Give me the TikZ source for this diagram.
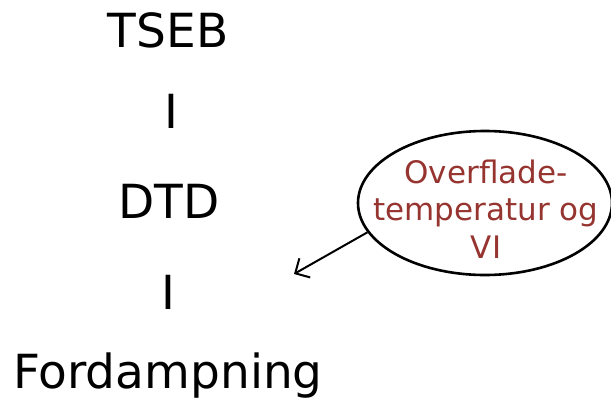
\documentclass[tikz,border=0pt]{standalone}
\usepackage{fontspec}
\setmainfont{DejaVu Sans}
\usetikzlibrary{shapes.geometric,arrows.meta}
\definecolor{noteRed}{RGB}{150,52,48}

\begin{document}
\begin{tikzpicture}[x=1pt,y=-1pt]
        \tikzset{
            chain/.style = {anchor=base, font=\fontsize{47}{56}\selectfont, inner sep=0pt},
            callout/.style = {ellipse, draw, line width=2.6pt,
                minimum width=254pt, minimum height=144pt, inner sep=0pt},
            notetext/.style = {text=noteRed, align=center, inner sep=0pt,
                font=\fontsize{31}{37.5}\selectfont}
        }
        \useasboundingbox (0,0) rectangle (611,405);

        \node[chain] (tseb) at (168,47) {TSEB};
        \node[chain] (bar1) at (171,128) {I};
        \node[chain] (dtd) at (169,218) {DTD};
        \node[chain] (bar2) at (168,309) {I};
        \node[chain] (fordamp) at (168,388) {Fordampning};

        \node[callout] (note) at (485,203) {};
        \node[notetext] (notetxt) at (486,209) {Overflade-\\temperatur og\\VI};
        \coordinate (tip) at (294,274);

        \draw[-{Straight Barb[length=11pt,width=22pt]}, line width=2pt] (note.194) -- (tip);
    \end{tikzpicture}
\end{document}
